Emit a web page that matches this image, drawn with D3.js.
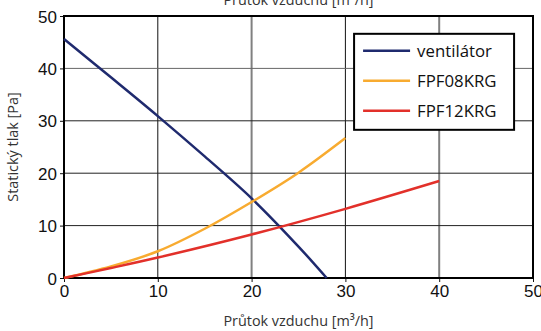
<!DOCTYPE html>
<meta charset="utf-8">
<head>
<style>
body { margin: 0; background: #fff; }
.tick text { font: 17px "Liberation Sans", Arial, sans-serif; fill: #111; }
.lbl { font: 14.4px "Open Sans", sans-serif; fill: #333; }
.leg { font: 16.8px "Open Sans", sans-serif; fill: #111; }
</style>
<script src="https://cdn.jsdelivr.net/npm/d3@7"></script>
</head>
<body>
<script>
// values
var xTicks = [0, 10, 20, 30, 40, 50];
var yTicks = [0, 10, 20, 30, 40, 50];
var ventX = [0, 5, 10, 15, 20, 25, 28];
var ventY = [45.6, 38.3, 30.9, 23.2, 15.2, 6.0, 0];
var f08X = [0, 5, 10, 15, 20, 25, 30];
var f08Y = [0, 2.2, 5.1, 9.4, 14.5, 20.1, 26.7];
var f12X = [0, 5, 10, 20, 30, 40];
var f12Y = [0, 1.9, 3.9, 8.3, 13.2, 18.5];
var names = ["ventilátor", "FPF08KRG", "FPF12KRG"];
var colors = ["#1f2a6e", "#f8ab30", "#e2302a"];

var W = 541, H = 331;
var margin = { top: 16, right: 8, bottom: 53, left: 64 };
var width = W - margin.left - margin.right,
    height = H - margin.top - margin.bottom;

var svg = d3.select("body").append("svg")
    .attr("width", W).attr("height", H);
var g = svg.append("g")
    .attr("transform", "translate(" + margin.left + "," + margin.top + ")");

var x = d3.scaleLinear().domain([0, 50]).range([0, width]);
var y = d3.scaleLinear().domain([0, 50]).range([height, 0]);

// grid
g.selectAll(".vgrid").data(xTicks.slice(1, -1)).enter().append("line")
    .attr("x1", d => x(d)).attr("x2", d => x(d))
    .attr("y1", 0).attr("y2", height)
    .attr("stroke", d => d % 20 == 0 ? "#808080" : "#111")
    .attr("stroke-width", d => d % 20 == 0 ? 2 : 1);
g.selectAll(".hgrid").data(yTicks.slice(1, -1)).enter().append("line")
    .attr("x1", 0).attr("x2", width)
    .attr("y1", d => y(d)).attr("y2", d => y(d))
    .attr("stroke", d => d == 40 ? "#666" : "#222")
    .attr("stroke-width", 1);

// axes
var xAxis = g.append("g").attr("transform", "translate(0," + height + ")")
    .call(d3.axisBottom(x).tickValues(xTicks).tickSize(4).tickPadding(3));
var yAxis = g.append("g")
    .call(d3.axisLeft(y).tickValues(yTicks).tickSize(4).tickPadding(3));
[xAxis, yAxis].forEach(function (a) {
    a.select(".domain").remove();
    a.selectAll(".tick line").attr("stroke", "#111");
});
yAxis.selectAll(".tick text").attr("dy", "0.36em");

g.append("rect").attr("width", width).attr("height", height)
    .attr("fill", "none").attr("stroke", "#000").attr("stroke-width", 2);

// curves
var series = [[ventX, ventY], [f08X, f08Y], [f12X, f12Y]];
var line = d3.line().x(d => x(d[0])).y(d => y(d[1])).curve(d3.curveCatmullRom);
series.forEach(function (s, i) {
    g.append("path")
        .datum(s[0].map((v, k) => [v, s[1][k]]))
        .attr("fill", "none")
        .attr("stroke", colors[i])
        .attr("stroke-width", 2.5)
        .attr("d", line);
});

// legend
var leg = g.append("g").attr("transform", "translate(" + (x(31) - 0.7) + "," + (y(46.6)) + ")");
leg.append("rect").attr("width", 160).attr("height", 96)
    .attr("fill", "#fff").attr("stroke", "#000").attr("stroke-width", 2);
names.forEach(function (n, i) {
    var yy = 17 + i * 30;
    leg.append("line").attr("x1", 9).attr("x2", 56).attr("y1", yy).attr("y2", yy)
        .attr("stroke", colors[i]).attr("stroke-width", 2.5);
    leg.append("text").attr("class", "leg").attr("x", 63).attr("y", yy).attr("dy", "0.35em").text(n);
});

// labels
svg.append("text").attr("class", "lbl").attr("text-anchor", "middle")
    .attr("x", margin.left + width / 2).attr("y", 5).text("Průtok vzduchu [m³/h]");
svg.append("text").attr("class", "lbl").attr("text-anchor", "middle")
    .attr("x", margin.left + width / 2).attr("y", 326).text("Průtok vzduchu [m³/h]");
svg.append("text").attr("class", "lbl").attr("text-anchor", "middle")
    .attr("transform", "translate(18," + (margin.top + height / 2) + ") rotate(-90)")
    .text("Statický tlak [Pa]");
</script>
</body>
